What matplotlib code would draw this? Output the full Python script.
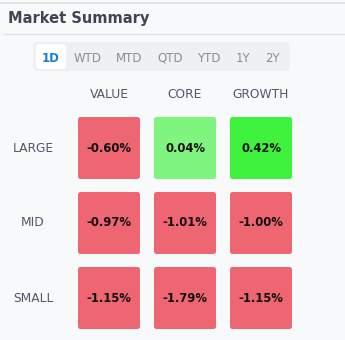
"""
Market Summary style box: 3x3 grid of daily returns by size / style.
"""
import matplotlib
matplotlib.use("Agg")
import matplotlib.pyplot as plt
from matplotlib.patches import FancyBboxPatch

# data
periods = ["1D", "WTD", "MTD", "QTD", "YTD", "1Y", "2Y"]
selected_period = "1D"
styles = ["VALUE", "CORE", "GROWTH"]
sizes = ["LARGE", "MID", "SMALL"]
returns = [
    [-0.60, 0.04, 0.42],
    [-0.97, -1.01, -1.00],
    [-1.15, -1.79, -1.15],
]

BG = "#f8f9fb"
LABEL = "#4f5867"


def cell_color(v):
    if v < 0:
        return "#ef6673"
    if v < 0.1:
        return "#7ff57f"
    return "#3ef23e"


plt.rcParams['font.family'] = ['DejaVu Sans']

fig = plt.figure(figsize=(3.45, 3.40), dpi=100, facecolor=BG)
ax = fig.add_axes([0, 0, 1, 1])
ax.set_xlim(0, 345)
ax.set_ylim(340, 0)
ax.axis('off')
ax.set_facecolor(BG)

# header
ax.plot([0, 345], [3, 3], color="#dcdee2", lw=1.2)
ax.text(8, 18, "Market Summary", fontsize=10.5, fontweight='bold',
        color="#3f4552", va='center', ha='left')
ax.plot([4, 345], [34, 34], color="#e1e3e7", lw=1)

# period tabs
ax.add_patch(FancyBboxPatch((33, 42), 257, 29, boxstyle="round,pad=0,rounding_size=4",
                            fc="#eff0f2", ec="none"))
tab_x = [51, 88, 129, 170, 209, 243, 272]
for x, p in zip(tab_x, periods):
    if p == selected_period:
        ax.add_patch(FancyBboxPatch((36, 44), 30, 25, boxstyle="round,pad=0,rounding_size=4",
                                    fc="white", ec="none"))
        ax.text(x, 61.5, p, fontsize=8.5, fontweight='bold', color="#1a7fd0",
                ha='center', va='baseline')
    else:
        ax.text(x, 61.5, p, fontsize=8.5, color="#8a8d93", ha='center',
                va='baseline')

# grid
col_x = [78, 154, 230]
row_y = [117, 192, 267]
w, h = 62, 62
for j, s in enumerate(styles):
    ax.text(col_x[j] + w / 2, 94, s, fontsize=8.8, color=LABEL, ha='center', va='center')
for i, size in enumerate(sizes):
    ax.text(33, row_y[i] + h / 2, size, fontsize=8.8, color=LABEL, ha='center', va='center')
    for j in range(len(styles)):
        v = returns[i][j]
        ax.add_patch(FancyBboxPatch((col_x[j], row_y[i]), w, h,
                                    boxstyle="round,pad=0,rounding_size=2.5",
                                    fc=cell_color(v), ec="none"))
        ax.text(col_x[j] + w / 2, row_y[i] + h / 2, f"{v:.2f}%", fontsize=8.4,
                fontweight='bold', color="#111111", ha='center', va='center')

fig.savefig("out.png", dpi=100, facecolor=BG)
